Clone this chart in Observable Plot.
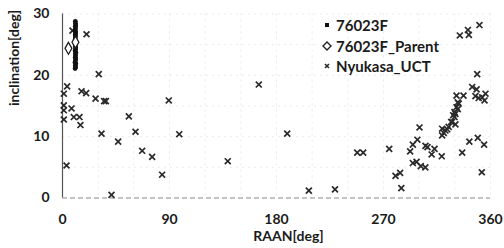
<!DOCTYPE html>
<html>
<head>
<meta charset="utf-8">
<script src="https://cdn.jsdelivr.net/npm/d3@7"></script>
<script src="https://cdn.jsdelivr.net/npm/@observablehq/plot@0.6"></script>
<style>
  html, body { margin: 0; padding: 0; background: #fff; }
  #wrap { position: relative; width: 504px; height: 248px; font-family: Lato, "Open Sans", sans-serif; }
  #legend { position: absolute; left: 322px; top: 15px; font-size: 15px; font-weight: bold; color: #1a1a1a; line-height: 20.5px; }
  #legend div { display: flex; align-items: center; white-space: nowrap; }
  #legend svg { margin-right: 4px; }
</style>
</head>
<body>
<div id="wrap"></div>
<script>
// ---- data ----
const seriesNames = ["76023F", "76023F_Parent", "Nyukasa_UCT"];

// 76023F (dense dots forming a vertical streak)
const raan76023F = [10.6, 11.0, 10.8, 11.2, 10.5, 10.9, 11.1, 10.7, 11.0, 10.8, 11.3, 10.6, 10.9, 11.1, 10.7, 11.0, 10.9, 11.2, 10.6, 10.8, 11.0, 10.7, 11.1, 10.9, 10.6, 11.0, 10.8, 11.1, 10.9, 10.8];
const inc76023F  = [21.1, 21.3, 21.6, 21.9, 22.1, 22.4, 22.7, 22.9, 23.2, 23.5, 23.7, 24.0, 24.2, 24.5, 24.8, 25.0, 25.3, 25.6, 25.8, 26.1, 26.4, 26.6, 26.9, 27.2, 27.4, 27.7, 28.0, 28.2, 28.5, 28.8];

// 76023F_Parent
const raanParent = [10.9, 5.0];
const incParent  = [25.4, 24.4];

// Nyukasa_UCT
const raanUCT = [8.4, 20.2, 30.5, 3.9, 1.1, 16.0, 19.9, 27.8, 35.0, 36.5, 89.4, 1.1, 7.6, 1.1, 9.5, 14.3, 1.1, 55.8, 15.1, 32.8, 61.4, 98.2, 46.8, 67.0, 75.4, 83.8, 3.4, 41.2,
  165.1, 189.0, 139.0, 207.2, 229.2, 247.9, 252.9,
  274.8, 280.1, 284.0, 285.0, 292.4, 294.7, 298.5, 300.3, 294.7, 297.8, 301.4, 305.2, 305.3, 307.0, 310.5, 312.9, 319.0, 319.3, 320.7, 319.3, 322.1, 323.6, 324.8, 326.9, 327.7, 330.5, 329.7, 328.6, 330.5, 329.7, 332.5, 331.4, 333.3, 332.5, 331.4, 337.3, 336.2, 342.2, 349.3, 354.6, 352.7, 347.3, 350.1, 353.0, 355.8, 355.0, 344.6, 348.3, 348.8, 334.2, 341.0, 341.8, 350.7];
const incUCT = [27.3, 26.7, 20.2, 18.2, 17.0, 17.4, 17.1, 16.2, 15.8, 15.8, 15.9, 15.1, 14.6, 14.3, 13.2, 13.2, 12.8, 13.3, 11.9, 10.5, 10.8, 10.4, 9.2, 7.7, 6.7, 3.8, 5.3, 0.5,
  18.5, 10.5, 6.0, 1.2, 1.4, 7.4, 7.4,
  8.0, 3.6, 4.1, 1.6, 7.6, 8.7, 9.5, 11.5, 5.7, 5.9, 5.2, 5.0, 8.5, 8.3, 7.1, 8.0, 6.8, 10.2, 10.6, 11.3, 11.0, 11.2, 11.6, 12.4, 12.4, 12.0, 13.2, 13.5, 13.7, 14.0, 14.5, 14.8, 15.4, 15.6, 16.7, 16.7, 7.4, 9.2, 9.8, 8.7, 4.2, 16.6, 16.3, 16.4, 17.0, 15.9, 18.1, 17.7, 20.2, 26.5, 27.4, 26.6, 28.2];

const xTicks = [0, 90, 180, 270, 360];
const yTicks = [0, 10, 20, 30];
const xGrid = [30, 60, 90, 120, 150, 180, 210, 240, 270, 300, 330, 360];
const yGrid = [5, 10, 15, 20, 25, 30];
const xTitle = "RAAN[deg]";
const yTitle = "inclination[deg]";

// ---- build tables ----
const d76 = raan76023F.map((x, i) => ({x, y: inc76023F[i]}));
const dParent = raanParent.map((x, i) => ({x, y: incParent[i]}));
const dUCT = raanUCT.map((x, i) => ({x, y: incUCT[i]}));

const chart = Plot.plot({
  width: 504,
  height: 248,
  marginLeft: 62,
  marginRight: 14,
  marginTop: 13.5,
  marginBottom: 50.5,
  style: {fontFamily: "Lato, 'Open Sans', sans-serif", fontSize: "14px", fontWeight: "bold", color: "#1a1a1a", background: "#fff"},
  x: {domain: [0, 360]},
  y: {domain: [0, 30]},
  marks: [
    Plot.gridX(xGrid, {stroke: "#d8d8d8", strokeOpacity: 0.5, strokeDasharray: "2,4"}),
    Plot.gridY(yGrid, {stroke: "#d8d8d8", strokeOpacity: 0.5, strokeDasharray: "2,4"}),
    Plot.ruleY([0], {stroke: "#888", strokeDasharray: "5,3"}),
    Plot.ruleX([0], {stroke: "#555", strokeWidth: 1.2}),
    Plot.axisX(xTicks, {tickSize: 0, tickPadding: 16, label: null}),
    Plot.axisY(yTicks, {tickSize: 0, tickPadding: 13, label: null}),
    Plot.text([xTitle], {frameAnchor: "bottom", dx: 12, dy: 43, fontSize: 14, fontWeight: "bold", fill: "#1a1a1a"}),
    Plot.text([yTitle], {frameAnchor: "left", dx: -48, rotate: -90, fontSize: 14, fontWeight: "bold", fill: "#1a1a1a"}),
    Plot.dot(dUCT, {x: "x", y: "y", symbol: "times", r: 2.8, stroke: "#2a2a2a", strokeWidth: 1.7}),
    Plot.dot(d76, {x: "x", y: "y", r: 2.4, fill: "#111", stroke: "none"}),
    Plot.dot(dParent, {x: "x", y: "y", symbol: "diamond", r: 3.6, fill: "#fff", stroke: "#222", strokeWidth: 1.3})
  ]
});

const wrap = document.getElementById("wrap");
wrap.appendChild(chart);

// legend overlay
const legend = document.createElement("div");
legend.id = "legend";
const syms = [
  '<svg width="10" height="10"><rect x="3" y="3" width="4" height="4" fill="#111"/></svg>',
  '<svg width="10" height="10"><path d="M5 1 L9 5 L5 9 L1 5 Z" fill="#fff" stroke="#222" stroke-width="1.4"/></svg>',
  '<svg width="10" height="10"><path d="M3 3 L7 7 M7 3 L3 7" stroke="#2a2a2a" stroke-width="1.6"/></svg>'
];
seriesNames.forEach((name, i) => {
  const row = document.createElement("div");
  row.innerHTML = syms[i] + "<span></span>";
  row.querySelector("span").textContent = name;
  legend.appendChild(row);
});
wrap.appendChild(legend);
</script>
</body>
</html>
